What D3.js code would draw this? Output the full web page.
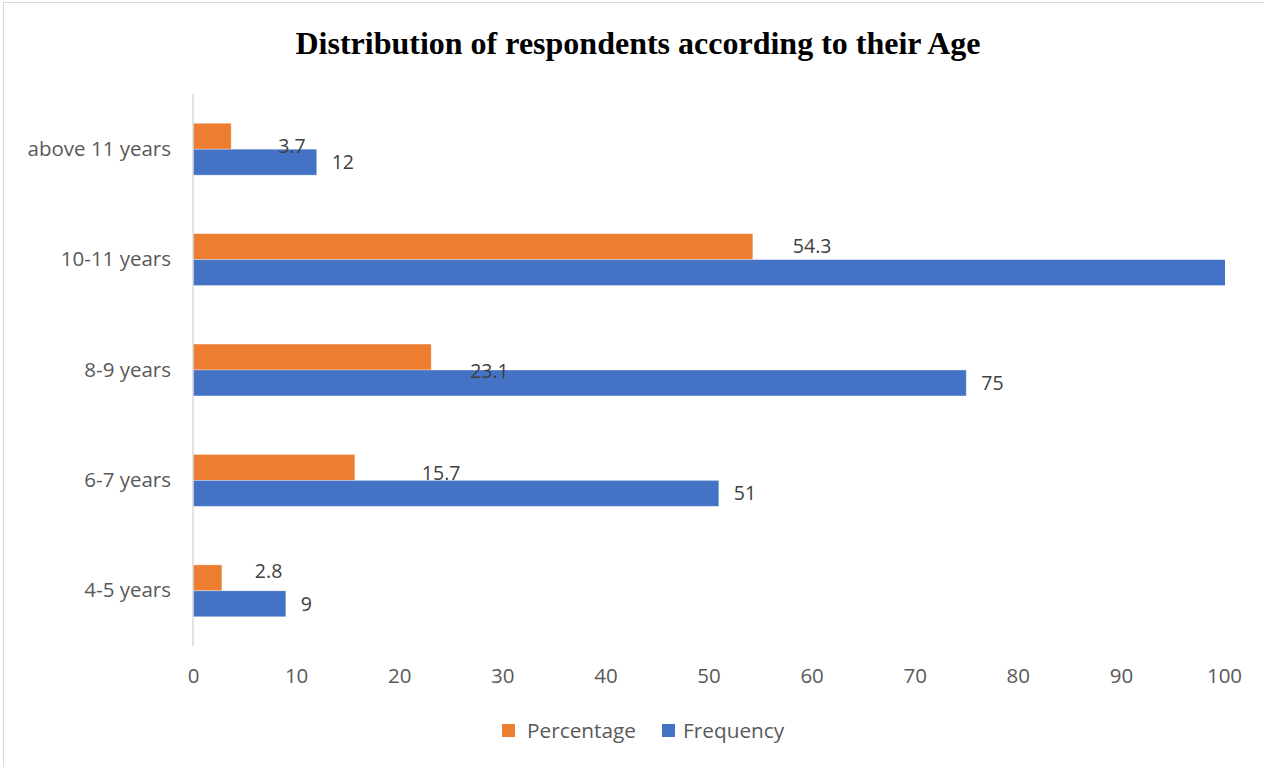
<!DOCTYPE html>
<html>
<head>
<meta charset="utf-8">
<script src="https://cdn.jsdelivr.net/npm/d3@7"></script>
<style>
  body { margin: 0; background: #fff; }
  svg { display: block; }
</style>
</head>
<body>
<svg id="chart" width="1264" height="767"></svg>
<script>
// Chart data
const categories = ["above 11 years", "10-11 years", "8-9 years", "6-7 years", "4-5 years"];
const percentage = [3.7, 54.3, 23.1, 15.7, 2.8];
const frequency  = [12, 176, 75, 51, 9];
const xTicks = [0, 10, 20, 30, 40, 50, 60, 70, 80, 90, 100];
const seriesNames = ["Percentage", "Frequency"];
const seriesColors = ["#ED7D31", "#4472C4"];

// label nudges for the orange labels (they were dragged around in the original)
const pctLabelShift = [[47, 10], [40, 0], [39, 14], [67, 6], [33, -7]];

const width = 1264, height = 767;
const margin = { top: 94, right: 40, bottom: 121, left: 193 };

const svg = d3.select("#chart");

// outer chart border
svg.append("rect")
    .attr("x", 3.5).attr("y", 2.5)
    .attr("width", width).attr("height", height)
    .attr("fill", "none")
    .attr("stroke", "#d9d9d9")
    .attr("stroke-width", 1);

svg.append("text")
    .attr("x", 638).attr("y", 54)
    .attr("text-anchor", "middle")
    .attr("font-family", "'Liberation Serif', 'Times New Roman', serif")
    .attr("font-weight", "bold")
    .attr("font-size", 32)
    .attr("fill", "#000")
    .text("Distribution of respondents according to their Age");

const x = d3.scaleLinear()
    .domain([0, 100])
    .range([margin.left, 1224]);

const y = d3.scaleBand()
    .domain(categories)
    .range([margin.top, height - margin.bottom])
    .paddingInner(0.53)
    .paddingOuter(0.265);

const ySub = d3.scaleBand()
    .domain(seriesNames)
    .range([0, y.bandwidth()]);

svg.append("clipPath").attr("id", "plotClip")
    .append("rect")
    .attr("x", margin.left).attr("y", margin.top)
    .attr("width", x(100) - margin.left + 1)
    .attr("height", height - margin.bottom - margin.top);

const rows = categories.map((c, i) => ({
    cat: c,
    values: [percentage[i], frequency[i]],
    shift: pctLabelShift[i]
}));

const bars = svg.append("g").attr("clip-path", "url(#plotClip)");

rows.forEach(r => {
    r.values.forEach((v, k) => {
        bars.append("rect")
            .attr("x", x(0))
            .attr("y", y(r.cat) + ySub(seriesNames[k]))
            .attr("width", x(v) - x(0))
            .attr("height", ySub.bandwidth())
            .attr("fill", seriesColors[k])
            .attr("stroke", "#fff")
            .attr("stroke-opacity", 0.4)
            .attr("stroke-width", 0.8);
    });
});

// data labels
const labelFont = "'Open Sans', 'Noto Sans', sans-serif";
const labels = svg.append("g")
    .attr("font-family", labelFont)
    .attr("font-size", 19.5)
    .attr("fill", "#404040");

rows.forEach(r => {
    // percentage label (moved by hand in the source)
    labels.append("text")
        .attr("x", x(r.values[0]) + r.shift[0])
        .attr("y", y(r.cat) + ySub("Percentage") + ySub.bandwidth() / 2 + r.shift[1])
        .attr("dy", "0.35em")
        .text(r.values[0]);
    // frequency label, only when the bar end is inside the plot
    if (r.values[1] <= x.domain()[1]) {
        labels.append("text")
            .attr("x", x(r.values[1]) + 15)
            .attr("y", y(r.cat) + ySub("Frequency") + ySub.bandwidth() / 2)
            .attr("dy", "0.35em")
            .text(r.values[1]);
    }
});

// vertical category axis line
svg.append("line")
    .attr("x1", x(0)).attr("x2", x(0))
    .attr("y1", margin.top).attr("y2", height - margin.bottom)
    .attr("stroke", "#d9d9d9")
    .attr("stroke-width", 1.5);

// category labels
const yAxis = d3.axisLeft(y).tickSize(0).tickPadding(22);
const yG = svg.append("g")
    .attr("transform", `translate(${x(0)},0)`)
    .call(yAxis);
yG.select(".domain").remove();
yG.selectAll("text")
    .attr("font-family", labelFont)
    .attr("font-size", 20.5)
    .attr("fill", "#595959");

// value axis ticks (no line)
const xAxis = d3.axisBottom(x).tickValues(xTicks).tickSize(0).tickPadding(22);
const xG = svg.append("g")
    .attr("transform", `translate(0,${height - margin.bottom})`)
    .call(xAxis);
xG.select(".domain").remove();
xG.selectAll("text")
    .attr("font-family", labelFont)
    .attr("font-size", 20.5)
    .attr("fill", "#595959");

// legend
const legend = svg.append("g")
    .attr("font-family", labelFont)
    .attr("font-size", 20.8)
    .attr("fill", "#595959");
const legendX = [502, 662];
seriesNames.forEach((name, k) => {
    legend.append("rect")
        .attr("x", legendX[k]).attr("y", 724)
        .attr("width", 13).attr("height", 13)
        .attr("fill", seriesColors[k]);
    legend.append("text")
        .attr("x", legendX[k] + (k === 0 ? 25 : 21))
        .attr("y", 731)
        .attr("dy", "0.35em")
        .text(name);
});
</script>
</body>
</html>
